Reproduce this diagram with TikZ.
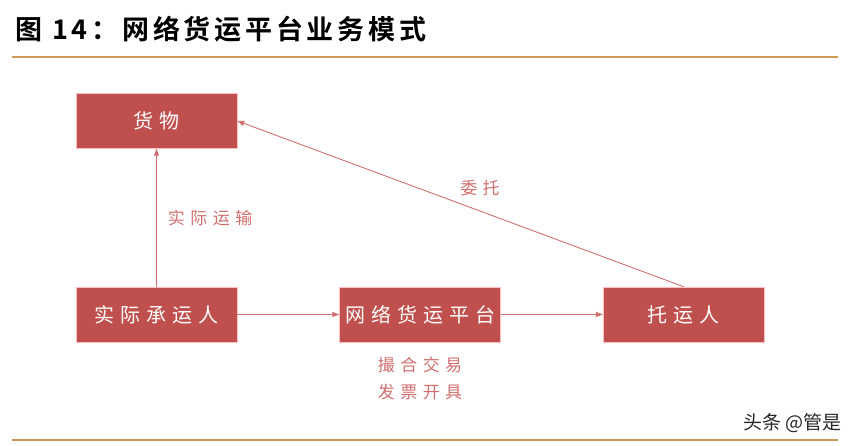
\documentclass[tikz,border=0pt]{standalone}
\usepackage{fontspec}
\newfontfamily\cjk{Noto Sans CJK SC}
\newfontfamily\cjktitle[LetterSpace=14]{Noto Sans CJK SC Bold}
\usetikzlibrary{arrows.meta,positioning}

\definecolor{boxred}{RGB}{192,80,77}
\definecolor{linered}{RGB}{208,112,110}
\definecolor{rulegold}{RGB}{204,154,84}

\begin{document}
\begin{tikzpicture}[
  x=1pt, y=-1pt,
  font=\fontsize{20}{24}\selectfont\cjk\addfontfeature{LetterSpace=30},
  node distance=138pt and 102pt,
  box/.style={
    rectangle, draw=red!25, line width=0.6pt, fill=boxred, text=white,
    minimum width=161pt, minimum height=55pt, inner sep=0pt, align=center
  },
  lbl/.style={
    text=linered, font=\fontsize{17}{27}\selectfont\cjk\addfontfeature{LetterSpace=32},
    inner sep=0pt, align=center
  },
  arrow/.style={
    -{Triangle[length=7pt,width=5pt]}, draw=linered, line width=0.9pt
  }
]
\useasboundingbox (0,0) rectangle (857,446);

% Title and rules
\node[anchor=west, inner sep=0pt, font=\fontsize{27}{30}\selectfont\cjktitle] (title) at (15,29) {图 14：网络货运平台业务模式};
\draw[rulegold, line width=2.2pt] (12,57) -- (838,57);
\draw[rulegold, line width=2.2pt] (12,440) -- (838,440);

% Boxes
\node[box, xshift=-3pt] (carrier) at (159.5,314.5) {实际承运人};
\node[box, above=of carrier] (goods) {货物};
\node[box, right=of carrier] (platform) {网络货运平台};
\node[box, right=of platform] (shipper) {托运人};

% Arrows
\draw[arrow] (carrier) -- node[lbl, anchor=west, xshift=11pt] (transport) {实际运输} (goods);
\draw[arrow] (carrier) -- (platform);
\draw[arrow] (platform) -- (shipper);
\draw[arrow] (shipper.north) -- (goods.east);

% Labels
\node[lbl] (entrust) at (480,188) {委托};
\node[lbl, below=15pt of platform] (service) {撮合交易\\发票开具};

% Watermark
\node[anchor=east, inner sep=0pt, text=black!85, font=\fontsize{19}{22}\selectfont\cjk] (mark) at (842,423) {头条 @管是};
\end{tikzpicture}
\end{document}
